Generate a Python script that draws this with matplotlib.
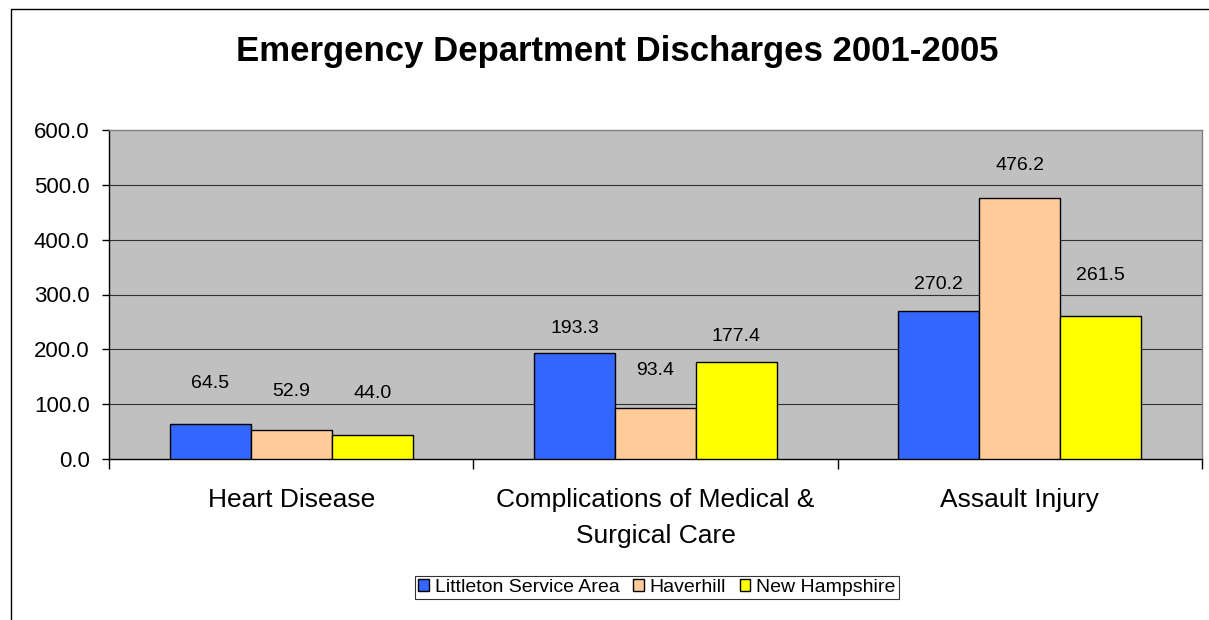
import matplotlib
matplotlib.use("Agg")
import matplotlib.pyplot as plt
import matplotlib.patches as mpatches
import numpy as np

plt.rcParams['font.family'] = ['Liberation Sans', 'DejaVu Sans']

# datos
categorias = ["Heart Disease", "Complications of Medical &\nSurgical Care", "Assault Injury"]
series = ["Littleton Service Area", "Haverhill", "New Hampshire"]
littleton = [64.5, 193.3, 270.2]
haverhill = [52.9, 93.4, 476.2]
new_hampshire = [44.0, 177.4, 261.5]
valores = [littleton, haverhill, new_hampshire]

colores = ["#3366FF", "#FFCC99", "#FFFF00"]
# distancia de cada etiqueta sobre su barra (puntos)
desfase = [[29, 18, 19], [28, 27, 23], [30, 18, 29]]

fig = plt.figure(figsize=(12.09, 6.2), dpi=100)
ax = fig.add_axes([109/1209, 1-459/620, (1202-109)/1209, (459-130)/620])
ax.set_facecolor("#C0C0C0")

ancho = 1/4.5
centros = np.arange(len(categorias)) + 0.5
for i in range(len(series)):
    xs = centros + (i-1)*ancho
    ax.bar(xs, valores[i], width=ancho, color=colores[i], edgecolor="black",
           linewidth=1.0, label=series[i], zorder=3)
    for j in range(len(xs)):
        ax.annotate("%.1f" % valores[i][j], (xs[j], valores[i][j]),
                    xytext=(0, desfase[i][j]), textcoords="offset points",
                    ha="center", va="center", fontsize=14, zorder=4)

ax.set_xlim(0, 3)
ax.set_ylim(0, 600)
ax.set_yticks(np.arange(0, 601, 100))
ax.set_yticklabels(["%.1f" % v for v in np.arange(0, 601, 100)], fontsize=16)
ax.tick_params(axis="y", direction="out", length=5, width=1, pad=9)
for v in range(100, 600, 100):
    ax.axhline(v, color="#303030", linewidth=0.8, zorder=1)

ax.set_xticks([0, 1, 2, 3])
ax.set_xticklabels([])
ax.set_xticks(centros, minor=True)
ax.set_xticklabels(categorias, minor=True, fontsize=19, linespacing=1.6)
ax.tick_params(axis="x", which="major", direction="out", length=7, width=1)
ax.tick_params(axis="x", which="minor", length=0, pad=21)

ax.spines["left"].set_color("black")
ax.spines["bottom"].set_color("black")
ax.spines["top"].set_color("#808080")
ax.spines["right"].set_color("#808080")
for s in ax.spines.values():
    s.set_linewidth(1.0)

fig.text(617/1209, 1-52/620, "Emergency Department Discharges 2001-2005",
         ha="center", va="center", fontsize=25, fontweight="bold")

leg = fig.legend(loc="center", bbox_to_anchor=(657/1209, 1-587.5/620), ncol=3,
                 fontsize=14, frameon=True, fancybox=False, edgecolor="black",
                 handlelength=0.55, handleheight=0.55, handletextpad=0.3,
                 columnspacing=0.7, borderpad=0.15, borderaxespad=0)
leg.get_frame().set_linewidth(0.8)

# marco del grafico
marco = mpatches.Rectangle((11/1209, -0.2), 1.2, 0.2 + 1-9/620, transform=fig.transFigure,
                           fill=False, edgecolor="black", linewidth=1.0)
fig.add_artist(marco)

fig.savefig("out.png", dpi=100, facecolor="white")
